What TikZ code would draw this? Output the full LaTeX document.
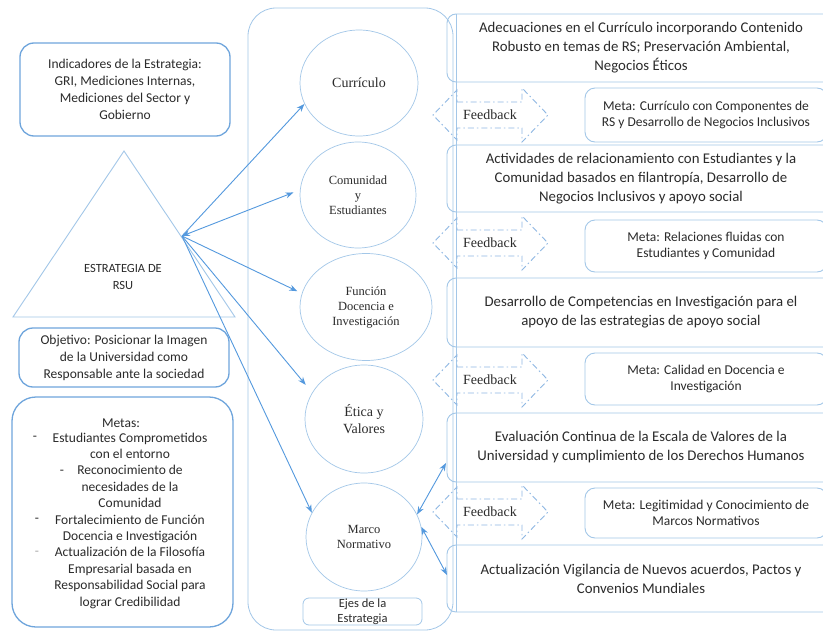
\documentclass[tikz,border=0pt]{standalone}
\usepackage{fontspec}
\setmainfont{Liberation Serif}
\newfontfamily\carl{Carlito}
\usetikzlibrary{shapes.geometric,arrows.meta}
\definecolor{ll}{HTML}{A3C7E8}
\definecolor{lm}{HTML}{6FA5DC}
\definecolor{ar}{HTML}{5499DE}
\definecolor{fbc}{HTML}{8FB8E3}
\definecolor{txt}{HTML}{2B2B2B}
\begin{document}
\begin{tikzpicture}[x=1pt,y=-1pt,
  >={Stealth[length=8pt,width=6pt]},
  lbox/.style={draw=lm,line width=1.3pt,rounded corners=14pt,text=txt,align=center,inner sep=0pt,
     font=\carl\fontsize{13.5}{17}\selectfont},
  actbox/.style={draw=ll,line width=0.9pt,rounded corners=9pt,text=txt,align=center,inner sep=0pt,
     minimum width=388pt,font=\carl\fontsize{14.8}{19}\selectfont},
  metabox/.style={draw=ll,line width=0.9pt,rounded corners=10pt,text=txt,align=center,inner sep=0pt,
     minimum width=242pt,font=\carl\fontsize{13.5}{16.5}\selectfont},
  axe/.style={ellipse,draw=ll,line width=0.7pt,text=txt,align=center,inner sep=0pt},
  big/.style={font=\fontsize{14}{17}\selectfont},
  small/.style={font=\fontsize{12.5}{15}\selectfont},
  fbline/.style={draw=fbc,line width=0.9pt,dash pattern=on 6pt off 3pt on 1.5pt off 3pt},
  fbtxt/.style={text=txt,font=\fontsize{14}{16}\selectfont,inner sep=0pt},
  arr/.style={draw=ar,line width=0.9pt,->},
  darr/.style={draw=ar,line width=0.9pt,<->},
  plain/.style={text=txt,inner sep=0pt,align=center,font=\carl\fontsize{13.5}{16.4}\selectfont}]
\useasboundingbox (0,0) rectangle (823,632);
\fill[white] (0,0) rectangle (823,632);
\clip (0,0) rectangle (823,632);

% left column
\node[lbox,minimum width=210pt,minimum height=93pt] (ind) at (125,89.5)
  {Indicadores de la Estrategia:\\GRI, Mediciones Internas,\\Mediciones del Sector y\\Gobierno};
\draw[draw=ll,line width=0.9pt] (13,317) -- (235,317) -- (124,151) -- cycle;
\node[text=txt,align=center,inner sep=0pt,font=\carl\fontsize{12.5}{17}\selectfont] (rsu) at (123,276.5)
  {ESTRATEGIA DE\\RSU};
\node[lbox,minimum width=210pt,minimum height=59pt] (obj) at (124,357.5)
  {Objetivo: Posicionar la Imagen\\de la Universidad como\\Responsable ante la sociedad};
\node[lbox,rounded corners=24pt,minimum width=221pt,minimum height=230pt] (met) at (122.5,512) {};
\node[plain] (mettit) at (121,423) {Metas:};
\node[plain] (metlist) at (130,520.5)
  {Estudiantes Comprometidos\\con el entorno\\Reconocimiento de\\necesidades de la\\Comunidad\\
   Fortalecimiento de Función\\Docencia e Investigación\\Actualización de la Filosofía\\
   Empresarial basada en\\Responsabilidad Social para\\lograr Credibilidad};
\node[plain] (d1) at (35,438) {-};
\node[plain] (d2) at (62,472) {-};
\node[plain] (d3) at (37,520) {-};
\node[plain,text=txt!40] (d4) at (37,553) {-};

% axes container
\node[draw=ll,line width=0.8pt,rounded corners=28pt,minimum width=205pt,minimum height=622pt,inner sep=0pt]
  (ejes) at (350.5,319) {};
\node[axe,minimum width=118pt,minimum height=106pt,big] (cur) at (359,83) {Currículo};
\node[axe,minimum width=116pt,minimum height=106pt,small] (com) at (358,195) {Comunidad\\y\\Estudiantes};
\node[axe,minimum width=132pt,minimum height=107pt,small] (fun) at (366,307) {Función\\Docencia e\\Investigación};
\node[axe,minimum width=118pt,minimum height=108pt,big] (eti) at (364,419) {Ética y\\Valores};
\node[axe,minimum width=116pt,minimum height=108pt,small] (mar) at (364,537) {Marco\\Normativo};
\node[draw=ll,line width=0.8pt,rounded corners=6pt,minimum width=119pt,minimum height=27pt,inner sep=0pt,
  text=txt,align=center,font=\carl\fontsize{12.5}{15}\selectfont] (ejt) at (362.5,611.5) {Ejes de la\\Estrategia};

% right column
\draw[draw=ll,line width=0.9pt] (456,14) -- (456,612);
\node[actbox,minimum height=68pt] (a1) at (641,48)
  {Adecuaciones en el Currículo incorporando Contenido\\Robusto en temas de RS; Preservación Ambiental,\\Negocios Éticos};
\node[actbox,minimum height=67pt] (a2) at (641,178.5)
  {Actividades de relacionamiento con Estudiantes y la\\Comunidad basados en filantropía, Desarrollo de\\Negocios Inclusivos y apoyo social};
\node[actbox,minimum height=69pt] (a3) at (641,312.5)
  {Desarrollo de Competencias en Investigación para el\\apoyo de las estrategias de apoyo social};
\node[actbox,minimum height=69pt] (a4) at (641,447.5)
  {Evaluación Continua de la Escala de Valores de la\\Universidad y cumplimiento de los Derechos Humanos};
\node[actbox,minimum height=67pt] (a5) at (641,578.5)
  {Actualización Vigilancia de Nuevos acuerdos, Pactos y\\Convenios Mundiales};

\node[metabox,minimum height=54pt] (g1) at (706,115) {Meta: Currículo con Componentes de\\RS y Desarrollo de Negocios Inclusivos};
\node[metabox,minimum height=52pt] (g2) at (706,246) {Meta: Relaciones fluidas con\\Estudiantes y Comunidad};
\node[metabox,minimum height=52pt] (g3) at (706,379) {Meta: Calidad en Docencia e\\Investigación};
\node[metabox,minimum height=50pt] (g4) at (706,513) {Meta: Legitimidad y Conocimiento de\\Marcos Normativos};

\foreach \i/\y in {1/115,2/243,3/380,4/512}{
  \draw[fbline] (457,\y-13) -- (522,\y-13) -- (522,\y-27) -- (548,\y) -- (522,\y+27) -- (522,\y+13)
     -- (457,\y+13) -- (457,\y+25) -- (433,\y) -- (457,\y-25) -- cycle;
  \node[fbtxt] (fb\i) at (490,\y) {Feedback};
}

% connectors
\coordinate (src) at (182,236);
\draw[arr] (src) -- (cur.201);
\draw[darr,shorten >=7pt] (src) -- (com.175);
\draw[arr,shorten >=5pt] (src) -- (fun.168);
\draw[arr,shorten >=10pt] (src) -- (eti.153);
\draw[arr] (src) -- (mar.155);
\coordinate (m1) at (446,463);
\coordinate (m2) at (447,575);
\draw[darr] (mar.23) -- (m1);
\draw[darr] (mar.10) -- (m2);
\end{tikzpicture}
\end{document}
